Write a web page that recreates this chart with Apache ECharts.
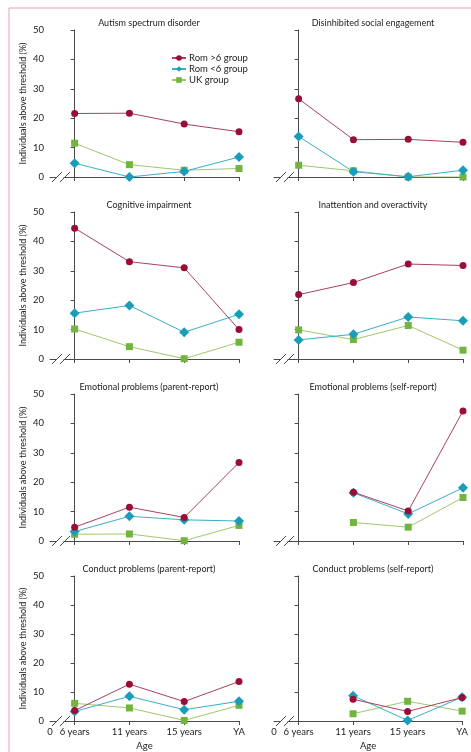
<!DOCTYPE html>
<html>
<head>
<meta charset="utf-8">
<script src="https://cdn.jsdelivr.net/npm/echarts@6/dist/echarts.min.js"></script>
<style>
html,body{margin:0;padding:0;background:#fff;}
#chart{width:471px;height:752px;}
</style>
</head>
<body>
<div id="chart"></div>
<script>
// ---- data ----
const categories = ['6 years', '11 years', '15 years', 'YA'];
const panelTitles = [
  'Autism spectrum disorder', 'Disinhibited social engagement',
  'Cognitive impairment', 'Inattention and overactivity',
  'Emotional problems (parent-report)', 'Emotional problems (self-report)',
  'Conduct problems (parent-report)', 'Conduct problems (self-report)'
];
const seriesNames = ['Rom >6 group', 'Rom <6 group', 'UK group'];
const yTicks = [0, 10, 20, 30, 40, 50];
const originLabel = '0';
const yAxisTitle = 'Individuals above threshold (%)';
const xAxisTitle = 'Age';

// values per panel (same order as panelTitles), per age
const romOver6 = [
  [21.6, 21.7, 18.0, 15.4],
  [26.6, 12.7, 12.8, 11.8],
  [44.5, 33.1, 31.0, 10.0],
  [21.9, 26.0, 32.3, 31.8],
  [4.7, 11.5, 8.0, 26.7],
  [null, 16.6, 10.2, 44.2],
  [3.6, 12.7, 6.7, 13.6],
  [null, 7.5, 3.3, 8.1]
];
const romUnder6 = [
  [4.7, 0.0, 1.9, 6.8],
  [13.8, 1.8, 0.1, 2.3],
  [15.6, 18.2, 9.1, 15.2],
  [6.5, 8.4, 14.3, 13.0],
  [3.2, 8.4, 7.2, 6.8],
  [null, 16.4, 9.2, 18.1],
  [3.3, 8.5, 3.9, 6.8],
  [null, 8.7, 0.2, 8.2]
];
const ukGroup = [
  [11.5, 4.2, 2.3, 2.9],
  [4.0, 2.1, 0.0, 0.0],
  [10.2, 4.2, 0.1, 5.7],
  [9.9, 6.6, 11.4, 3.0],
  [2.3, 2.4, 0.1, 5.3],
  [null, 6.3, 4.7, 14.8],
  [6.1, 4.5, 0.2, 5.4],
  [null, 2.5, 6.8, 3.4]
];

// ---- layout / style ----
const FONT = 'Lato';
const AX = '#4a4a4a';
const colLeft = [50, 274];
const colRight = [232, 8];     // px from right edge
const rowTop = [30, 212, 394, 576];
const gridH = 147;
const xMin = -0.45;

const styles = [
  {line: '#a8415f', mark: '#9a0d36', symbol: 'circle', size: 7},
  {line: '#3aaec6', mark: '#1a9db8', symbol: 'diamond', size: 10},
  {line: '#9fc76e', mark: '#72b43e', symbol: 'rect', size: 7}
];
const groups = [romOver6, romUnder6, ukGroup];

const grids = [], xAxes = [], yAxes = [], series = [], titles = [];
for (let i = 0; i < 8; i++) {
  const c = i % 2, r = Math.floor(i / 2);
  const bottomRow = r === 3;
  grids.push({left: colLeft[c], right: colRight[c], top: rowTop[r], height: gridH});
  titles.push({
    text: panelTitles[i],
    left: c === 0 ? 144 : 368, top: rowTop[r] - 16, textAlign: 'center',
    textStyle: {fontFamily: FONT, fontSize: 9, fontWeight: 'normal', color: '#222'}
  });
  xAxes.push({
    type: 'value', gridIndex: i, min: xMin, max: 3,
    name: bottomRow ? xAxisTitle : '', nameLocation: 'middle', nameGap: 20,
    nameTextStyle: {fontFamily: FONT, fontSize: 9.5, color: '#222'},
    axisLine: {show: true, lineStyle: {color: AX, width: 1}},
    axisTick: {show: true, customValues: [0, 1, 2, 3], length: 4, lineStyle: {color: AX}},
    axisLabel: {
      show: bottomRow, customValues: [xMin, 0, 1, 2, 3], margin: 6,
      fontFamily: FONT, fontSize: 9.5, color: '#222',
      formatter: v => (v < 0 ? originLabel : categories[Math.round(v)])
    },
    splitLine: {show: false}
  });
  yAxes.push({
    type: 'value', gridIndex: i, min: yTicks[0], max: yTicks[yTicks.length - 1], interval: 10,
    name: c === 0 ? yAxisTitle : '', nameLocation: 'middle', nameGap: 22,
    nameTextStyle: {fontFamily: FONT, fontSize: 9, color: '#222'},
    axisLine: {show: true, lineStyle: {color: AX, width: 1}},
    axisTick: {show: true, length: 4, lineStyle: {color: AX}},
    axisLabel: {show: c === 0, margin: 6, fontFamily: FONT, fontSize: 9.5, color: '#222'},
    splitLine: {show: false}
  });
  // draw UK first, then Rom<6, then Rom>6 on top
  for (let g = 2; g >= 0; g--) {
    const st = styles[g];
    const data = [];
    groups[g][i].forEach((v, j) => { if (v !== null) data.push([j, v]); });
    series.push({
      type: 'line', name: seriesNames[g], xAxisIndex: i, yAxisIndex: i,
      data: data, symbol: st.symbol, symbolSize: st.size, showSymbol: true,
      lineStyle: {color: st.line, width: 1},
      itemStyle: {color: st.mark, borderWidth: 0},
      emphasis: {disabled: true}, animation: false, z: 3 - g
    });
  }
}

const chart = echarts.init(document.getElementById('chart'), null, {renderer: 'canvas'});
chart.setOption({
  backgroundColor: '#fff',
  animation: false,
  title: titles,
  grid: grids, xAxis: xAxes, yAxis: yAxes, series: series,
  legend: {
    data: seriesNames, orient: 'vertical', left: 166, top: 48,
    itemWidth: 14, itemHeight: 7, itemGap: 1,
    textStyle: {fontFamily: FONT, fontSize: 9.5, color: '#222', padding: [0, 0, 0, -2]},
    selectedMode: false
  }
});

// decorative axis breaks and outer frame
const gfx = [{
  type: 'rect', shape: {x: 9, y: 8, width: 480, height: 780},
  style: {fill: 'none', stroke: '#e7a3b7', lineWidth: 1}, silent: true
}];
for (let i = 0; i < 8; i++) {
  const o = chart.convertToPixel({xAxisIndex: i, yAxisIndex: i}, [xMin, 0]);
  const ox = o[0], oy = o[1];
  gfx.push({
    type: 'polygon', shape: {points: [[ox + 4, oy + 3], [ox + 10, oy - 3], [ox + 17, oy - 3], [ox + 11, oy + 3]]},
    style: {fill: '#fff'}, z: 100, silent: true
  });
  [2, 10].forEach(dx => {
    gfx.push({
      type: 'line', shape: {x1: ox + dx, y1: oy + 5, x2: ox + dx + 10, y2: oy - 5},
      style: {stroke: AX, lineWidth: 1}, z: 101, silent: true
    });
  });
}
chart.setOption({graphic: gfx});
</script>
</body>
</html>
